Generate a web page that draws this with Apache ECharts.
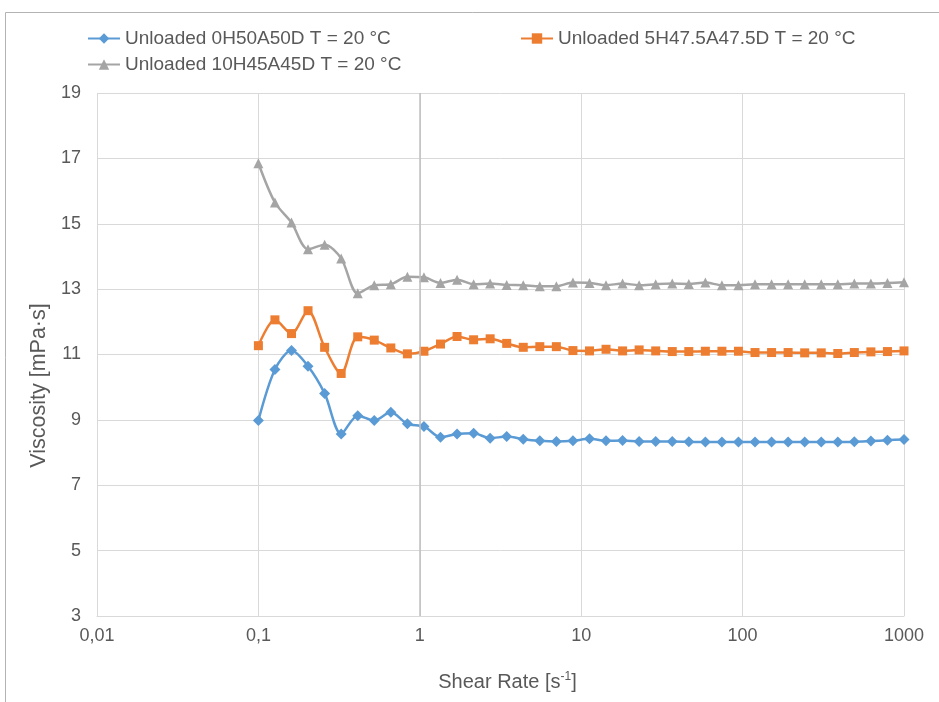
<!DOCTYPE html>
<html>
<head>
<meta charset="utf-8">
<title>Viscosity vs Shear Rate</title>
<script src="https://cdn.jsdelivr.net/npm/echarts@6/dist/echarts.min.js"></script>
<style>
  html, body { margin: 0; padding: 0; background: #ffffff; }
  #chart { width: 939px; height: 702px; }
</style>
</head>
<body>
<div id="chart"></div>
<script>
// Shear rate sweep, 40 log-spaced points from 0.1 to 1000 1/s
const shearRate = [
  0.1, 0.1266, 0.1603, 0.2030, 0.2572, 0.3257, 0.4125, 0.5223, 0.6614, 0.8377,
  1.0608, 1.3434, 1.7013, 2.1544, 2.7283, 3.4551, 4.3755, 5.5411, 7.0170, 8.8862,
  11.253, 14.251, 18.047, 22.855, 28.943, 36.654, 46.416, 58.780, 74.438, 94.267,
  119.38, 151.18, 191.45, 242.45, 307.04, 388.82, 492.39, 623.55, 789.65, 1000
];

// Viscosity [mPa·s] for each blend
const visc0H50A50D = [
  8.98, 10.54, 11.12, 10.64, 9.81, 8.57, 9.13, 8.98, 9.23, 8.88,
  8.80, 8.47, 8.57, 8.59, 8.44, 8.49, 8.41, 8.36, 8.34, 8.36,
  8.42, 8.36, 8.37, 8.34, 8.34, 8.34, 8.33, 8.32, 8.32, 8.32,
  8.32, 8.32, 8.32, 8.32, 8.32, 8.32, 8.33, 8.35, 8.38, 8.40
];
const visc5H475A475D = [
  11.27, 12.06, 11.64, 12.34, 11.22, 10.42, 11.54, 11.44, 11.20, 11.02,
  11.10, 11.32, 11.55, 11.45, 11.48, 11.34, 11.22, 11.24, 11.24, 11.12,
  11.11, 11.16, 11.11, 11.14, 11.11, 11.09, 11.09, 11.10, 11.10, 11.10,
  11.06, 11.06, 11.06, 11.05, 11.05, 11.03, 11.06, 11.08, 11.09, 11.11
];
const visc10H45A45D = [
  16.85, 15.65, 15.04, 14.22, 14.36, 13.94, 12.87, 13.12, 13.15, 13.38,
  13.36, 13.19, 13.29, 13.15, 13.17, 13.13, 13.12, 13.09, 13.09, 13.20,
  13.19, 13.12, 13.17, 13.12, 13.15, 13.17, 13.16, 13.20, 13.12, 13.12,
  13.15, 13.15, 13.15, 13.15, 13.15, 13.15, 13.17, 13.17, 13.19, 13.21
];

const seriesNames = [
  'Unloaded 0H50A50D T = 20 °C',
  'Unloaded 5H47.5A47.5D T = 20 °C',
  'Unloaded 10H45A45D T = 20 °C'
];
const xTickLabels = ['0,01', '0,1', '1', '10', '100', '1000'];

const FONT = '"Liberation Sans", Arial, sans-serif';
const TEXT = '#595959';

function pairs(ys) {
  return shearRate.map((x, i) => [x, ys[i]]);
}

function lineSeries(name, ys, color, symbol, size) {
  return {
    name: name,
    type: 'line',
    data: pairs(ys),
    smooth: 0.3,
    symbol: symbol,
    symbolSize: size,
    lineStyle: { color: color, width: 2.5 },
    itemStyle: { color: color },
    emphasis: { disabled: true },
    z: 3
  };
}

function legendAt(name, left, top) {
  return {
    data: [name],
    left: left,
    top: top,
    itemWidth: 32,
    itemHeight: 13,
    itemGap: 0,
    selectedMode: false,
    textStyle: { color: TEXT, fontSize: 19, fontFamily: FONT }
  };
}

const chart = echarts.init(document.getElementById('chart'), null, { renderer: 'canvas' });

const blue = lineSeries(seriesNames[0], visc0H50A50D, '#5b9bd5', 'diamond', 11);
// vertical axis line crossing at shear rate 1
blue.markLine = {
  silent: true,
  symbol: 'none',
  label: { show: false },
  lineStyle: { color: '#bfbfbf', width: 1.5, type: 'solid' },
  data: [{ xAxis: 1 }],
  animation: false
};

chart.setOption({
  animation: false,
  backgroundColor: '#ffffff',
  graphic: [{
    type: 'rect',
    shape: { x: 5.5, y: 12.5, width: 2000, height: 2000 },
    style: { fill: 'none', stroke: '#b3b3b3', lineWidth: 1 },
    silent: true,
    z: -10
  }],
  legend: [
    legendAt(seriesNames[0], 82, 24),
    legendAt(seriesNames[1], 515, 24),
    legendAt(seriesNames[2], 82, 50)
  ],
  grid: { left: 97, right: 35, top: 93, bottom: 86 },
  xAxis: {
    type: 'log',
    logBase: 10,
    min: 0.01,
    max: 1000,
    name: '{a|Shear Rate [s}{b|-1}{a|]}',
    nameLocation: 'middle',
    nameGap: 55,
    nameTextStyle: {
      padding: [0, 0, 0, 14],
      rich: {
        a: { fontSize: 20, color: TEXT, fontFamily: FONT },
        b: { fontSize: 12, color: TEXT, fontFamily: FONT, verticalAlign: 'top', padding: [0, 0, 10, 0] }
      }
    },
    axisLine: { show: true, lineStyle: { color: '#d9d9d9', width: 1 } },
    axisTick: { show: false },
    minorTick: { show: false },
    splitLine: { show: true, lineStyle: { color: '#d9d9d9', width: 1 } },
    axisLabel: {
      color: TEXT,
      fontSize: 18,
      fontFamily: FONT,
      margin: 11,
      formatter: function (v) {
        const k = Math.round(Math.log10(v)) + 2;
        return xTickLabels[k] !== undefined ? xTickLabels[k] : '';
      }
    }
  },
  yAxis: {
    type: 'value',
    min: 3,
    max: 19,
    interval: 2,
    name: 'Viscosity [mPa·s]',
    nameLocation: 'middle',
    nameGap: 40,
    nameTextStyle: { color: TEXT, fontSize: 21.5, fontFamily: FONT, padding: [0, 62, 0, 0] },
    axisLine: { show: false },
    axisTick: { show: false },
    splitLine: { show: true, lineStyle: { color: '#d9d9d9', width: 1 } },
    axisLabel: { color: TEXT, fontSize: 18, fontFamily: FONT, margin: 16 }
  },
  series: [
    blue,
    lineSeries(seriesNames[1], visc5H475A475D, '#ed7d31', 'rect', 9),
    lineSeries(seriesNames[2], visc10H45A45D, '#a5a5a5', 'triangle', 10)
  ]
});
</script>
</body>
</html>
